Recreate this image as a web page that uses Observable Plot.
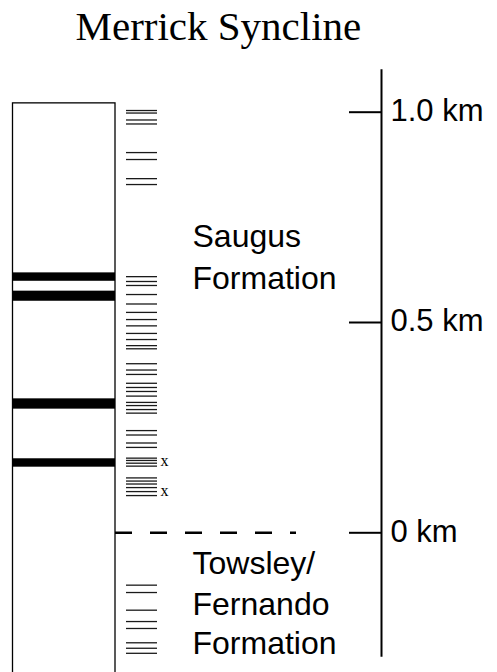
<!DOCTYPE html>
<html>
<head>
<meta charset="utf-8">
<script src="https://cdn.jsdelivr.net/npm/d3@7"></script>
<script src="https://cdn.jsdelivr.net/npm/@observablehq/plot@0.6"></script>
<style>
  html, body { margin: 0; padding: 0; background: #fff; }
  #chart svg { display: block; }
</style>
</head>
<body>
<div id="chart"></div>
<script>
// ---- Data (stratigraphic height in metres above the Saugus / Towsley-Fernando contact) ----
const title = "Merrick Syncline";

// Paleomagnetic sample sites (each horizontal line)
const siteHeights = [
  1004, 998, 981.5, 972, 904, 887.5, 842, 828,
  609, 597.5, 588, 566.5, 544, 524, 507, 492, 474, 459.5, 445, 437.5,
  402, 387, 376.5, 355.5, 345.5, 336, 325, 310, 302.5, 293, 284.5,
  243, 232.5, 213.5, 203, 177.5, 172, 165.5, 158.5,
  130.5, 123, 116, 107.5, 98, 88.5,
  -124.5, -142, -184, -211, -227.5, -261.5, -274.5, -286.5
];

// Normal-polarity intervals (black bands)
const bandTop    = [618, 574.5, 318.5, 176];
const bandBottom = [598, 550.5, 294, 156];

// Rejected sites marked with "x"
const xMarkHeights = [158.5, 88.5];

// Column extent
const columnTop = 1021;
const columnBottom = -340;

// Formation contact
const contactHeight = 0;

// Scale bar
const scaleTicks = [0, 500, 1000];
const scaleLabels = ["0 km", "0.5 km", "1.0 km"];
const scaleTop = 1101;
const scaleBottom = -296;

// Formation labels (baseline heights)
const formationText = ["Saugus", "Formation", "Towsley/", "Fernando", "Formation"];
const formationHeights = [678.5, 580, -99, -195, -287];

// ---- Layout (horizontal positions, px) ----
const W = 497, H = 672;
const COL_L = 12.5, COL_R = 115;
const SITE_L = 126, SITE_R = 157;
const AXIS_X = 381, TICK_L = 349, LABEL_X = 390;
const DASH_R = 296;
const FORM_X = 192;

const bands = bandTop.map((t, i) => ({top: t, bottom: bandBottom[i]}));
const scale = scaleTicks.map((v, i) => ({v, label: scaleLabels[i]}));
const formations = formationText.map((t, i) => ({text: t, h: formationHeights[i]}));

const sans = "Liberation Sans, Arial, Helvetica, sans-serif";
const serif = "Liberation Serif, Times New Roman, serif";

const chart = Plot.plot({
  width: W,
  height: H,
  margin: 0,
  x: {domain: [0, W], range: [0, W], axis: null},
  y: {domain: [0, 1000], range: [532.3, 111.7], axis: null},
  style: {background: "white", overflow: "visible"},
  marks: [
    // title
    Plot.text([title], {
      frameAnchor: "top-left", dx: 75, dy: 39, lineAnchor: "bottom", textAnchor: "start",
      fontSize: 41, fontFamily: serif, fill: "black"
    }),
    // column outline
    Plot.rect([{top: columnTop, bottom: columnBottom}], {
      x1: COL_L, x2: COL_R, y1: "bottom", y2: "top",
      fill: "none", stroke: "black", strokeWidth: 1.3
    }),
    // normal polarity bands
    Plot.rect(bands, {x1: COL_L, x2: COL_R, y1: "bottom", y2: "top", fill: "black"}),
    // sample sites
    Plot.ruleY(siteHeights, {x1: SITE_L, x2: SITE_R, stroke: "#1a1a1a", strokeWidth: 1.3}),
    // rejected site markers
    Plot.text(xMarkHeights, {
      x: 160, y: d => d, text: () => "x", textAnchor: "start", lineAnchor: "bottom",
      fontSize: 16, fontFamily: serif, fill: "black"
    }),
    // formation contact (dashed)
    Plot.ruleY([contactHeight], {
      x1: COL_R, x2: DASH_R, stroke: "black", strokeWidth: 2.5, strokeDasharray: "17,18"
    }),
    // scale bar
    Plot.ruleX([AXIS_X], {y1: scaleBottom, y2: scaleTop, stroke: "black", strokeWidth: 2}),
    Plot.ruleY(scale, {y: "v", x1: TICK_L, x2: AXIS_X, stroke: "black", strokeWidth: 2}),
    Plot.text(scale, {
      x: LABEL_X, y: "v", text: "label", textAnchor: "start", dy: -1,
      fontSize: 31, fontFamily: sans, fill: "black"
    }),
    // formation labels
    Plot.text(formations, {
      x: FORM_X, y: "h", text: "text", textAnchor: "start", lineAnchor: "bottom",
      fontSize: 32, fontFamily: sans, fill: "black"
    })
  ]
});

document.getElementById("chart").appendChild(chart);
</script>
</body>
</html>
